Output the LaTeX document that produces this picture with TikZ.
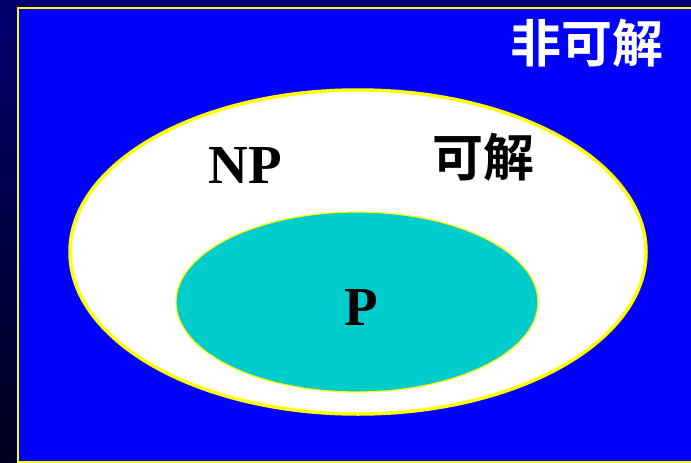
\documentclass[tikz,border=0pt]{standalone}
\usepackage{fontspec}
\usetikzlibrary{shapes.geometric}
\setmainfont{Liberation Serif}
\newfontfamily\cjk{Noto Sans CJK SC Bold}
\definecolor{bgblue}{RGB}{0,0,255}
\definecolor{navy}{RGB}{0,0,110}
\definecolor{darknavy}{RGB}{0,0,30}
\definecolor{pcyan}{RGB}{0,204,204}
\definecolor{ylw}{RGB}{255,255,0}
\tikzset{
  cjklabel/.style={font=\cjk\fontsize{51}{51}\selectfont, inner sep=0pt},
  serlabel/.style={font=\bfseries\fontsize{55}{55}\selectfont, inner sep=0pt, text=black},
  setellipse/.style={shape=ellipse, inner sep=0pt},
}
\begin{document}
\begin{tikzpicture}[x=1pt,y=-1pt]
\useasboundingbox (0,0) rectangle (691,463);
% background strips
\shade[top color=navy, bottom color=darknavy] (0,0) rectangle (18,463);
\fill[navy] (0,0) rectangle (691,8);
\fill[bgblue] (18,8) rectangle (691,463);
\draw[ylw, line width=2pt] (18,463) -- (18,8) -- (692,8);
\draw[ylw, line width=2pt] (18,462) -- (692,462);
% ellipses
\node[setellipse, draw=ylw, line width=3.5pt, fill=white, minimum width=576, minimum height=324] at (358,252) (np) {};
\node[setellipse, draw=ylw, line width=1.2pt, fill=pcyan, minimum width=362, minimum height=180] at (357,302) (p) {};
% labels
\node[cjklabel, text=white] (nonsolv) at (587,43) {非可解};
\node[cjklabel, text=black] (solv) at (483,157) {可解};
\node[serlabel] (nplabel) at (245,165) {NP};
\node[serlabel] (plabel) at (361,307) {P};
\end{tikzpicture}
\end{document}
